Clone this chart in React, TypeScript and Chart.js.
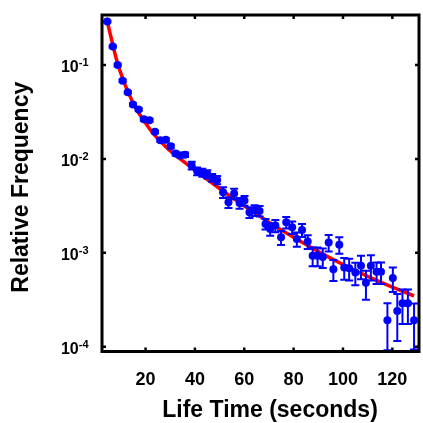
import React, { useEffect, useRef } from "react";
import { Chart, registerables } from "chart.js";

Chart.register(...registerables);

// ---- data ----
const lifeTime = [
  4.5, 6.7, 8.7, 10.7, 12.8, 14.9, 17.2, 19.3, 21.6, 23.8, 26.0, 28.2, 30.2, 32.2, 34.0, 36.0,
  38.7, 40.9, 43.0, 45.0, 47.0, 49.0, 51.4, 53.6, 55.9, 58.1, 60.1, 62.1, 64.2, 66.2, 68.6, 70.5,
  72.6, 74.9, 77.0, 79.4, 81.3, 83.4, 85.7, 87.7, 89.7, 91.8, 94.2, 96.1, 98.5, 100.5, 102.5, 105.0,
  107.3, 109.3, 111.3, 113.6, 115.4, 118.0, 120.2, 122.0, 124.1, 126.3, 128.8,
];
const relFreq = [
  0.29, 0.157, 0.1, 0.0679, 0.0511, 0.038, 0.0336, 0.0264, 0.0258, 0.0194, 0.0158, 0.016, 0.0136, 0.0114, 0.0109, 0.0111,
  0.00851, 0.00741, 0.00716, 0.00689, 0.00631, 0.00596, 0.00442, 0.00345, 0.00427, 0.00339, 0.0036, 0.0027, 0.00283, 0.00279, 0.00203, 0.00179,
  0.00195, 0.00146, 0.00211, 0.00187, 0.0014, 0.00175, 0.00132, 0.000929, 0.000929, 0.0009, 0.00129, 0.00067, 0.00122, 0.000697, 0.000686, 0.000617,
  0.000726, 0.000481, 0.000726, 0.000627, 0.000627, 0.000191, 0.00054, 0.00024, 0.00029, 0.00029, 0.000191,
];
const freqErr = [
  0.006, 0.004, 0.003, 0.002, 0.0015, 0.0012, 0.0011, 0.0009, 0.0009, 0.0007, 0.0006, 0.0006, 0.0006, 0.0005, 0.0005, 0.0006,
  0.0008, 0.0007, 0.0007, 0.0007, 0.0006, 0.0006, 0.00058, 0.00045, 0.00055, 0.00044, 0.00043, 0.00035, 0.00037, 0.00036, 0.00026, 0.00027,
  0.00029, 0.00025, 0.0003, 0.00028, 0.00024, 0.00028, 0.00022, 0.00021, 0.00021, 0.00021, 0.00026, 0.000168, 0.000244, 0.000181, 0.000178, 0.000167,
  0.000203, 0.000164, 0.000218, 0.000163, 0.000163, 0.0000993, 0.000158, 0.000125, 0.000116, 0.000116, 0.0000974,
];
const fitTime = [
  4, 4.5, 5.5, 6.7, 8, 9, 10, 11, 12, 13, 14, 15, 17, 19, 21, 23, 25, 27, 30, 34, 40, 50, 60, 70, 80, 90, 100, 110, 120, 128.8,
];
const fitFreq = [
  0.316, 0.288, 0.224, 0.166, 0.12, 0.0977, 0.0813, 0.0692, 0.0589, 0.0513, 0.0447, 0.0389, 0.0316, 0.0263, 0.0221, 0.0188,
  0.0164, 0.0145, 0.01216, 0.01, 0.00759, 0.00484, 0.00316, 0.00212, 0.00146, 0.00103, 0.00075, 0.00056, 0.00043, 0.000348,
];
const xTickValues = [20, 40, 60, 80, 100, 120];
const yTickValues = [1e-4, 1e-3, 1e-2, 1e-1];
const yTickBase = "10";
const yTickExponents = ["-4", "-3", "-2", "-1"];
const xAxisTitle = "Life Time (seconds)";
const yAxisTitle = "Relative Frequency";

const BLUE = "#0000ff";
const RED = "#ff0000";
const FONT = '"Liberation Sans", Arial, sans-serif';

const decorPlugin = {
  id: "decor",
  beforeDatasetDraw(chart: any, args: any) {
    if (args.index !== 0) return;
    const { ctx, chartArea } = chart;
    const xs = chart.scales.x;
    const ys = chart.scales.y;
    ctx.save();
    ctx.beginPath();
    ctx.rect(chartArea.left, chartArea.top, chartArea.right - chartArea.left, chartArea.bottom - chartArea.top);
    ctx.clip();
    ctx.strokeStyle = BLUE;
    ctx.lineWidth = 2;
    for (let i = 0; i < lifeTime.length; i++) {
      const px = xs.getPixelForValue(lifeTime[i]);
      const top = ys.getPixelForValue(relFreq[i] + freqErr[i]);
      const bot = ys.getPixelForValue(Math.max(relFreq[i] - freqErr[i], 1e-9));
      ctx.beginPath();
      ctx.moveTo(px, top);
      ctx.lineTo(px, bot);
      ctx.moveTo(px - 4, top);
      ctx.lineTo(px + 4, top);
      ctx.moveTo(px - 4, bot);
      ctx.lineTo(px + 4, bot);
      ctx.stroke();
    }
    ctx.restore();
  },
  afterDraw(chart: any) {
    const { ctx, chartArea } = chart;
    const { left, right, top, bottom } = chartArea;
    const xs = chart.scales.x;
    const ys = chart.scales.y;
    ctx.save();
    // frame
    ctx.strokeStyle = "#000";
    ctx.lineWidth = 3;
    ctx.strokeRect(left, top, right - left, bottom - top);
    // inward ticks
    ctx.lineWidth = 2.5;
    ctx.beginPath();
    for (const v of xTickValues) {
      const px = xs.getPixelForValue(v);
      ctx.moveTo(px, bottom);
      ctx.lineTo(px, bottom - 4);
      ctx.moveTo(px, top);
      ctx.lineTo(px, top + 4);
    }
    for (const v of yTickValues) {
      const py = ys.getPixelForValue(v);
      ctx.moveTo(left, py);
      ctx.lineTo(left + 4, py);
      ctx.moveTo(right, py);
      ctx.lineTo(right - 4, py);
    }
    ctx.stroke();
    // y tick labels with superscript exponents
    ctx.fillStyle = "#000";
    ctx.textBaseline = "alphabetic";
    ctx.textAlign = "left";
    const rightEdge = left - 13.5;
    yTickValues.forEach((v, i) => {
      const py = ys.getPixelForValue(v);
      ctx.font = `bold 11px ${FONT}`;
      const supW = ctx.measureText(yTickExponents[i]).width;
      ctx.font = `bold 16px ${FONT}`;
      const baseW = ctx.measureText(yTickBase).width;
      ctx.fillText(yTickBase, rightEdge - supW - baseW, py + 7.5);
      ctx.font = `bold 11px ${FONT}`;
      ctx.fillText(yTickExponents[i], rightEdge - supW, py + 1.5);
    });
    // axis titles
    ctx.font = `bold 23px ${FONT}`;
    ctx.textAlign = "center";
    ctx.textBaseline = "middle";
    ctx.fillText(xAxisTitle, left + 168, bottom + 59.5);
    ctx.translate(22, (top + bottom) / 2 + 4);
    ctx.rotate(-Math.PI / 2);
    ctx.fillText(yAxisTitle, 0, 0);
    ctx.restore();
  },
};

export default function App() {
  const canvasRef = useRef<HTMLCanvasElement | null>(null);

  useEffect(() => {
    document.body.style.margin = "0";
    const canvas = canvasRef.current;
    if (!canvas) return;
    const chart = new Chart(canvas, {
      type: "scatter",
      data: {
        datasets: [
          {
            label: "data",
            data: lifeTime.map((x, i) => ({ x, y: relFreq[i] })),
            backgroundColor: BLUE,
            borderColor: BLUE,
            pointRadius: 4,
            pointBorderWidth: 0,
            showLine: false,
          },
          {
            label: "fit",
            data: fitTime.map((x, i) => ({ x, y: fitFreq[i] })),
            borderColor: RED,
            backgroundColor: RED,
            borderWidth: 3.5,
            pointRadius: 0,
            showLine: true,
            cubicInterpolationMode: "monotone",
          } as any,
        ],
      },
      options: {
        animation: false,
        responsive: false,
        layout: { padding: { top: 15, right: 3, left: 0, bottom: 0 } },
        plugins: { legend: { display: false }, tooltip: { enabled: false } },
        scales: {
          x: {
            type: "linear",
            min: 2.35,
            max: 130.8,
            grid: { display: false },
            border: { display: false },
            ticks: {
              font: { family: FONT, size: 18, weight: "bold" },
              color: "#000",
              padding: 10,
              maxRotation: 0,
              autoSkip: false,
            },
            afterBuildTicks: (s: any) => {
              s.ticks = xTickValues.map((v) => ({ value: v }));
            },
            afterFit: (s: any) => {
              s.height = 71.5;
            },
          },
          y: {
            type: "logarithmic",
            min: 8.89e-5,
            max: 0.3407,
            grid: { display: false },
            border: { display: false },
            ticks: { display: false },
            afterBuildTicks: (s: any) => {
              s.ticks = yTickValues.map((v) => ({ value: v }));
            },
            afterFit: (s: any) => {
              s.width = 102;
            },
          },
        },
      } as any,
      plugins: [decorPlugin],
    });
    return () => chart.destroy();
  }, []);

  return (
    <div style={{ width: 423, height: 423 }}>
      <canvas ref={canvasRef} width={423} height={423} style={{ display: "block" }} />
    </div>
  );
}
